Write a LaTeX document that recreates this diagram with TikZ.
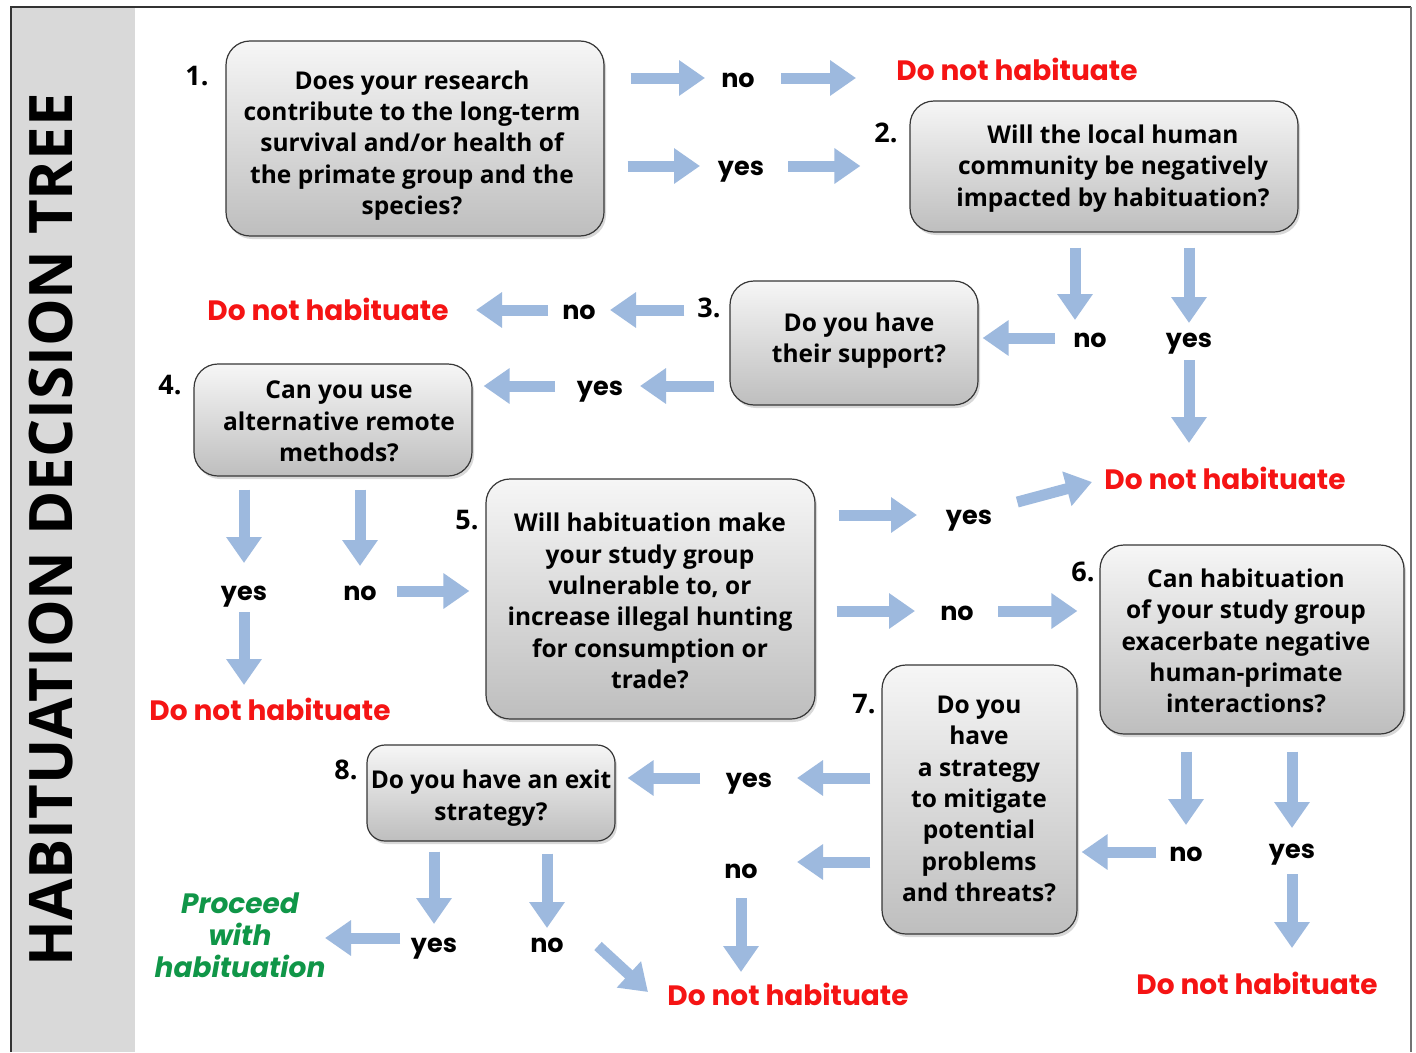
\documentclass[tikz,border=0pt]{standalone}
\usepackage{fontspec}
\setmainfont{Open Sans}
\newfontfamily\popfont{Poppins}
\usetikzlibrary{arrows.meta,shadows,calc}
\definecolor{arrowc}{RGB}{157,185,222}
\definecolor{redc}{RGB}{245,20,20}
\definecolor{greenc}{RGB}{16,150,72}
\definecolor{barc}{RGB}{217,217,217}
\definecolor{edgec}{RGB}{55,55,55}
\definecolor{boxtop}{RGB}{246,246,246}
\definecolor{boxbot}{RGB}{190,190,190}
\begin{document}
\begin{tikzpicture}[x=1pt,y=-1pt,
  box/.style={draw=edgec, line width=1.2pt, rounded corners=24pt,
    top color=boxtop, bottom color=boxbot,
    drop shadow={opacity=0.3,shadow xshift=2pt,shadow yshift=-3pt},
    inner sep=0pt},
  boxtext/.style={align=center, inner sep=0pt, font=\fontsize{24.5}{31.3}\selectfont\bfseries},
  lab/.style={font=\popfont\fontsize{25.5}{25.5}\selectfont\bfseries, inner sep=0pt, text height=19pt, text depth=0pt},
  dnh/.style={font=\popfont\fontsize{28}{28}\selectfont\bfseries, text=redc, inner sep=0pt, text height=20pt, text depth=0pt},
  grn/.style={font=\popfont\fontsize{28}{32}\selectfont\bfseries\itshape, text=greenc, align=center, inner sep=0pt},
  num/.style={font=\fontsize{27}{27}\selectfont\bfseries, inner sep=0pt, text height=19pt, text depth=0pt},
  arr/.style={draw=arrowc, line width=11pt, -{Triangle[width=34pt,length=26pt]}},
  sh/.style 2 args={shorten <=#1pt, shorten >=#2pt}
]
\useasboundingbox (0,0) rectangle (1416,1052);
\fill[white] (0,0) rectangle (1416,1052);
\fill[barc] (11,7) rectangle (135,1052);
\draw[black!80, line width=1.5pt] (11,1052) -- (11,7) -- (1411,7);
\draw[black!55, line width=2.5pt] (1411,7) -- (1411,1052);

\node[rotate=90, font=\fontsize{60}{60}\selectfont\bfseries, inner sep=0pt, text height=43pt, text depth=0pt] (title) at (51,530) {HABITUATION DECISION TREE};

% boxes
\node[box, minimum width=378pt, minimum height=195pt] (b1) at (415,138.5) {};
\node[box, minimum width=388pt, minimum height=131pt] (b2) at (1104,166.5) {};
\node[box, minimum width=248pt, minimum height=124pt] (b3) at (854,343) {};
\node[box, minimum width=278pt, minimum height=112pt] (b4) at (333,420) {};
\node[box, minimum width=329pt, minimum height=240pt] (b5) at (650.5,599) {};
\node[box, minimum width=304pt, minimum height=189pt] (b6) at (1252,639.5) {};
\node[box, minimum width=195pt, minimum height=269pt] (b7) at (979.5,799.5) {};
\node[box, rounded corners=18pt, minimum width=248pt, minimum height=96pt] (b8) at (491,793) {};

% box texts
\node[boxtext] (t1) at (412,145.5) {Does your research\\contribute to the long-term\\survival and/or health of\\the primate group and the\\species?};
\node[boxtext] (t2) at (1113,168.5) {Will the local human\\community be negatively\\impacted by habituation?};
\node[boxtext] (t3) at (859,340.5) {Do you have\\their support?};
\node[boxtext] (t4) at (339,421.5) {Can you use\\alternative remote\\methods?};
\node[boxtext] (t5) at (650,601) {Will habituation make\\your study group\\vulnerable to, or\\increase illegal hunting\\for consumption or\\trade?};
\node[boxtext] (t6) at (1246,641) {Can habituation\\of your study group\\exacerbate negative\\human-primate\\interactions?};
\node[boxtext] (t7) at (979,799) {Do you\\have\\a strategy\\to mitigate\\potential\\problems\\and threats?};
\node[boxtext] (t8) at (491,798) {Do you have an exit\\strategy?};

% numbers
\node[num] (k1) at (197,76) {1.};
\node[num] (k2) at (886,133) {2.};
\node[num] (k3) at (709,308) {3.};
\node[num] (k4) at (170,385) {4.};
\node[num] (k5) at (467,520) {5.};
\node[num] (k6) at (1083,572) {6.};
\node[num] (k7) at (864,704) {7.};
\node[num] (k8) at (346,770) {8.};

% labels
\node[lab] (n1) at (738,78) {no};
\node[lab] (y1) at (741,166) {yes};
\node[lab] (n2) at (1090,338) {no};
\node[lab] (y2) at (1189,338) {yes};
\node[lab] (n3) at (579,310) {no};
\node[lab] (y3) at (600,386) {yes};
\node[lab] (y4) at (244,591) {yes};
\node[lab] (n4) at (360,591) {no};
\node[lab] (y5) at (969,515) {yes};
\node[lab] (n5) at (957,611) {no};
\node[lab] (n6) at (1186,852) {no};
\node[lab] (y6) at (1292,849) {yes};
\node[lab] (y7) at (749,778) {yes};
\node[lab] (n7) at (741,869) {no};
\node[lab] (y8) at (434,943) {yes};
\node[lab] (n8) at (547,943) {no};

% outcomes
\node[dnh] (r1) at (1017,70) {Do not habituate};
\node[dnh] (r2) at (1225,479) {Do not habituate};
\node[dnh] (r3) at (328,310) {Do not habituate};
\node[dnh] (r4) at (270,710) {Do not habituate};
\node[dnh] (r6) at (1257,984) {Do not habituate};
\node[dnh] (r7) at (788,995) {Do not habituate};
\node[grn] (g8) at (240,935) {Proceed\\with\\habituation};

% arrows
\draw[arr, sh={26}{33}] (b1.east |- n1.center) -- (n1.center);
\draw[arr, sh={43}{161}] (n1.center) -- (r1.center |- n1.center);
\draw[arr, sh={23}{41}] (b1.east |- y1.center) -- (y1.center);
\draw[arr, sh={47}{49}] (y1.center) -- (b2.west |- y1.center);
\draw[arr, sh={15}{18}] ($(n2.center |- b2.south)+(-15,0)$) -- ($(n2.center)+(-15,0)$);
\draw[arr, sh={15}{15}] (y2.center |- b2.south) -- (y2.center);
\draw[arr, sh={22}{36}] (y2.center) -- (y2.center |- r2.center);
\draw[arr, sh={35}{4}] (n2.center) -- (b3.east |- n2.center);
\draw[arr, sh={45}{31}] (b3.west |- n3.center) -- (n3.center);
\draw[arr, sh={31}{148}] (n3.center) -- (r3.center);
\draw[arr, sh={15}{40}] (b3.west |- y3.center) -- (y3.center);
\draw[arr, sh={45}{11}] (y3.center) -- (b4.east |- y3.center);
\draw[arr, sh={13}{28}] (y4.center |- b4.south) -- (y4.center);
\draw[arr, sh={13}{25}] (n4.center |- b4.south) -- (n4.center);
\draw[arr, sh={21}{25}] (y4.center) -- (y4.center |- r4.center);
\draw[arr, sh={37}{16}] (n4.center) -- (b5.west |- n4.center);
\draw[arr, sh={23}{52}] (b5.east |- y5.center) -- (y5.center);
\draw[arr, sh={50}{0}] (y5.center) -- ($(r2.center)+(-133,3)$);
\draw[arr, sh={21}{42}] (b5.east |- n5.center) -- (n5.center);
\draw[arr, sh={41}{22}] (n5.center) -- (b6.west |- n5.center);
\draw[arr, sh={17}{27}] (n6.center |- b6.south) -- (n6.center);
\draw[arr, sh={17}{21}] (y6.center |- b6.south) -- (y6.center);
\draw[arr, sh={25}{36}] (y6.center) -- (y6.center |- r6.center);
\draw[arr, sh={30}{4}] (n6.center) -- (b7.east |- n6.center);
\draw[arr, sh={11}{48}] (b7.west |- y7.center) -- (y7.center);
\draw[arr, sh={49}{12}] (y7.center) -- (b8.east |- y7.center);
\draw[arr, sh={11}{56}] ($(b7.west |- n7.center)+(0,-7)$) -- ($(n7.center)+(0,-7)$);
\draw[arr, sh={29}{23}] (n7.center) -- (n7.center |- r7.center);
\draw[arr, sh={10}{19}] (y8.center |- b8.south) -- (y8.center);
\draw[arr, sh={12}{15}] (n8.center |- b8.south) -- (n8.center);
\draw[arr, sh={34}{85}] ($(y8.center)+(0,-5)$) -- ($(y8.center -| g8.center)+(0,-5)$);
\draw[arr] ($(n8.center)+(51,3)$) -- ($(n8.center)+(101,49)$);
\end{tikzpicture}
\end{document}
